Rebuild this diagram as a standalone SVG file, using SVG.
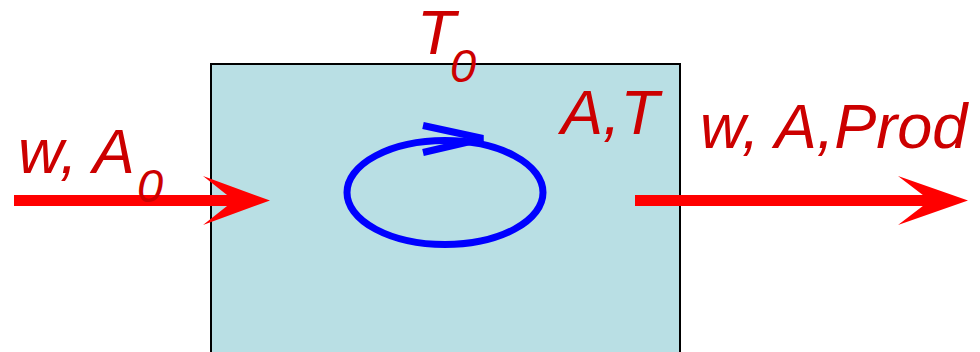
<svg xmlns="http://www.w3.org/2000/svg" width="980" height="352" viewBox="0 0 980 352">
<style>
.lbl{font-family:"Liberation Sans",Arial,sans-serif;font-style:italic;fill:#cc0000;font-size:63px}
.sub{font-size:47px}
.flow{stroke:#ff0000;stroke-width:11;fill:none}
.head{fill:#ff0000}
</style>
<g id="reactor">
<rect x="211" y="64" width="469" height="290" fill="#b9dfe4" stroke="#000" stroke-width="2"/>
</g>
<g id="mixing">
<ellipse cx="445" cy="192.5" rx="98" ry="52" fill="none" stroke="#0000ff" stroke-width="7"/>
<polyline points="423,125.5 483,138.5 423,152.5" fill="none" stroke="#0000ff" stroke-width="7"/>
</g>
<g id="connectors">
<line class="flow" x1="14" y1="200.5" x2="240" y2="200.5"/>
<path class="head" d="M270,200.5 L203,176 L234,200.5 L203,225 Z"/>
<line class="flow" x1="635" y1="200.5" x2="935" y2="200.5"/>
<path class="head" d="M968,200.5 L898,176 L930,200.5 L898,225 Z"/>
</g>
<g id="labels">
<text class="lbl" x="417" y="54">T</text>
<text class="lbl sub" x="450" y="82">0</text>
<text class="lbl" x="561" y="134">A,T</text>
<text class="lbl" x="700" y="148">w, A,Prod</text>
<text class="lbl" x="18" y="173">w, A</text>
<text class="lbl sub" x="137" y="202">0</text>
</g>
</svg>
